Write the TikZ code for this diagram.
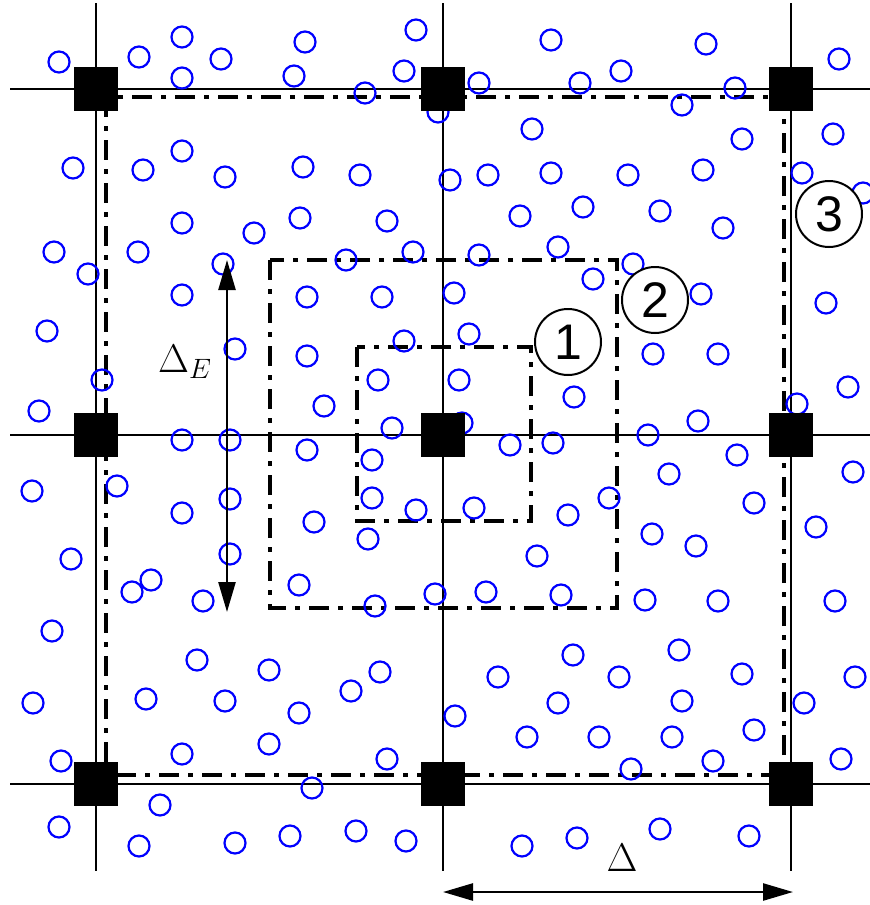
\RequirePackage{fix-cm}
\documentclass[tikz,border=0pt]{standalone}
\usepackage{fontspec}
\newfontfamily\lab{Liberation Sans}
\usetikzlibrary{arrows.meta}
\begin{document}
\begin{tikzpicture}[x=1pt,y=-1pt,
  gridline/.style={line width=2.6pt},
  dd/.style={line width=4.6pt, dash pattern=on 20pt off 9pt on 5pt off 9pt},
  part/.style={draw=blue, line width=2.2pt},
  blk/.style={fill=black, minimum size=44pt, inner sep=0pt, draw=none},
  lbl/.style={circle, draw, fill=white, line width=2pt, minimum size=66pt, inner sep=0pt, font=\lab\fontsize{50}{50}\selectfont},
  dim/.style={line width=2.5pt, {Triangle[length=30pt,width=17pt]}-{Triangle[length=30pt,width=17pt]}},
  big/.style={inner sep=0pt, font=\fontsize{40}{48}\selectfont}]
\useasboundingbox (0,0) rectangle (870,905);
% grid lines
\foreach \y in {89,435,784} \draw[gridline] (10,\y) -- (870,\y);
\foreach \x in {96,443,791} \draw[gridline] (\x,3) -- (\x,871);
% dash-dot regions
\draw[dd] (106,97) rectangle (784,775);
\draw[dd] (270,260) rectangle (617,608);
\draw[dd] (357,347) rectangle (531,521);
% particles
\foreach \p in {(59,62),(139,57),(182,37),(182,78),(221,59),(305,42),(294,76),(416,30),(404,71),(365,93),(438,112),(479,83),(551,40),(580,83),(621,71),(706,44),(735,88),(682,105),(839,59),(532,129),(742,139),(833,134),
(73,168),(143,170),(182,151),(225,177),(303,167),(360,175),(450,180),(488,175),(551,173),(628,175),(703,170),(802,173),(863,193),
(182,223),(254,233),(300,218),(387,221),(520,216),(583,207),(660,211),(723,228),
(54,252),(138,252),(88,274),(223,264),(413,252),(346,260),(479,255),(558,247),(633,264),
(182,295),(307,297),(382,297),(454,293),(593,279),(701,294),(826,303),
(47,331),(235,349),(102,380),(39,411),(182,440),(230,440),(32,491),(117,486),(182,513),(230,499),(71,559),(230,554),(151,580),(132,592),(203,601),(299,585),
(469,334),(404,341),(307,356),(378,380),(459,380),(324,406),(392,428),(462,423),(307,450),(510,445),(553,443),(372,460),(574,397),(372,498),(416,510),(474,508),(568,515),(314,522),(368,539),(537,556),(435,594),(486,592),(561,595),(375,606),
(653,354),(718,354),(848,387),(797,404),(698,421),(648,435),(737,455),(853,472),(669,474),(609,498),(754,503),(816,527),(652,534),(696,546),(645,600),(718,601),(835,601),
(52,631),(197,660),(269,670),(33,703),(146,699),(225,701),(299,713),(61,761),(182,754),(269,744),(160,805),(59,827),(139,846),(235,843),
(573,655),(380,672),(351,691),(455,716),(498,677),(558,703),(527,737),(387,759),(312,788),(290,836),(356,831),(406,841),(522,846),(577,838),
(679,650),(619,677),(742,674),(855,677),(682,701),(804,703),(599,737),(672,737),(754,730),(631,769),(713,761),(841,759),(660,829),(749,836)}
  \draw[part] \p circle[radius=10.5pt];
% black markers
\node[blk] (m11) at (96,89) {};
\node[blk] (m12) at (443,89) {};
\node[blk] (m13) at (791,89) {};
\node[blk] (m21) at (96,435) {};
\node[blk] (m22) at (443,435) {};
\node[blk] (m23) at (791,435) {};
\node[blk] (m31) at (96,784) {};
\node[blk] (m32) at (443,784) {};
\node[blk] (m33) at (791,784) {};
% region labels
\node[lbl] (l1) at (568,342) {1};
\node[lbl] (l2) at (655,300) {2};
\node[lbl] (l3) at (829,214) {3};
% dimension arrows
\coordinate (eT) at (227,260);
\coordinate (eB) at (227,612);
\draw[dim] (eT) -- (eB);
\node[big, anchor=base west] (dE) at (158,372) {$\Delta_E$};
\coordinate (dL) at (443,892);
\coordinate (dR) at (793,892);
\draw[dim] (dL) -- (dR);
\node[big, anchor=base] (d) at (622,871) {$\Delta$};
\end{tikzpicture}
\end{document}
